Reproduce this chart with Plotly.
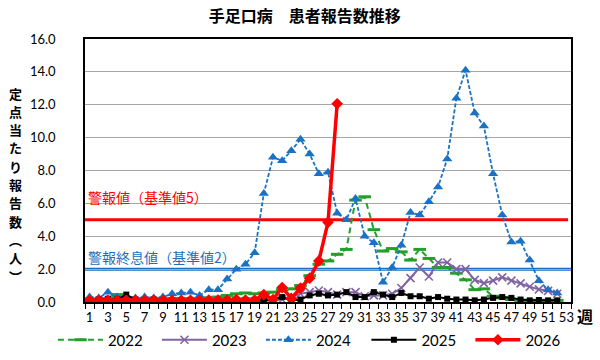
import plotly.graph_objects as go

weeks = list(range(1, 54))
tick_weeks = list(range(1, 54, 2))

y2022 = [0.1, 0.15, 0.2, 0.45, 0.25, 0.2, 0.15, 0.2, 0.15, 0.2, 0.2, 0.15, 0.2, 0.25, 0.3, 0.4, 0.5, 0.55, 0.5, 0.55,
         0.6, 0.75, 0.8, 1.0, 1.6, 2.3, 2.5, 2.9, 3.2, 6.2, 6.4, 4.4, 3.1, 3.25, 3.05, 2.55, 3.2, 2.65, 2.1, 2.1,
         1.75, 1.35, 0.75, 0.8, 0.35, 0.25, 0.15, 0.1, 0.1, 0.1, 0.1, 0.1]
y2023 = [0.05, 0.05, 0.05, 0.05, 0.05, 0.05, 0.05, 0.05, 0.05, 0.05, 0.05, 0.05, 0.05, 0.05, 0.05, 0.05, 0.05, 0.05, 0.05, 0.05,
         0.1, 0.15, 0.3, 0.5, 0.6, 0.7, 0.6, 0.45, 0.6, 0.6, 0.35, 0.4, 0.4, 0.5, 0.85, 1.45, 2.1, 1.55, 2.4, 2.4,
         2.0, 2.0, 1.35, 1.15, 1.3, 1.5, 1.3, 1.13, 0.93, 0.77, 0.68, 0.5]
y2024 = [0.3, 0.25, 0.6, 0.3, 0.3, 0.25, 0.3, 0.25, 0.3, 0.5, 0.55, 0.6, 0.4, 0.75, 0.75, 1.4, 2.0, 2.3, 3.0, 6.6,
         8.8, 8.6, 9.2, 9.9, 9.0, 7.8, 7.9, 5.4, 5.0, 6.3, 4.0, 3.6, 1.2, 2.1, 3.45, 5.45, 5.3, 6.1, 7.0, 8.7,
         12.4, 14.1, 11.5, 10.7, 7.8, 5.3, 3.65, 3.7, 2.55, 1.3, 0.75, 0.55]
y2025 = [0.1, 0.15, 0.2, 0.15, 0.45, 0.15, 0.1, 0.15, 0.1, 0.1, 0.1, 0.1, 0.1, 0.1, 0.1, 0.1, 0.1, 0.1, 0.1, 0.1,
         0.15, 0.3, 0.1, 0.15, 0.4, 0.5, 0.4, 0.45, 0.6, 0.3, 0.3, 0.6, 0.45, 0.3, 0.55, 0.35, 0.35, 0.2, 0.3, 0.2,
         0.15, 0.15, 0.1, 0.15, 0.25, 0.3, 0.25, 0.15, 0.1, 0.12, 0.1, 0.1]
y2026 = [0.1, 0.1, 0.1, 0.1, 0.1, 0.1, 0.1, 0.1, 0.1, 0.1, 0.1, 0.1, 0.1, 0.12, 0.12, 0.12, 0.15, 0.12, 0.12, 0.45,
         0.15, 0.88, 0.22, 0.85, 1.45, 2.5, 4.85, 12.06]

ALERT_LEVEL = 5
END_LEVEL = 2
TITLE = "手足口病　患者報告数推移"
ALERT_LABEL = "警報値（基準値5）"
END_LABEL = "警報終息値（基準値2）"
Y_TITLE = "定点当たり報告数︵人︶"

num_font = "Lato, Liberation Sans, sans-serif"
jp_font = "Noto Sans CJK JP, sans-serif"

fig = go.Figure()

fig.add_trace(go.Scatter(
    x=weeks[:len(y2022)], y=y2022, name="2022", mode="lines+markers", legend="legend",
    line=dict(color="#22a02a", width=2, dash="6px,4px"),
    marker=dict(symbol="line-ew", size=9, line=dict(color="#22a02a", width=3)),
))
fig.add_trace(go.Scatter(
    x=weeks[:len(y2023)], y=y2023, name="2023", mode="lines+markers", legend="legend",
    line=dict(color="#8064a2", width=2),
    marker=dict(symbol="x-thin", size=8, line=dict(color="#8064a2", width=1.6)),
))
fig.add_trace(go.Scatter(
    x=weeks[:len(y2024)], y=y2024, name="2024", mode="lines+markers", legend="legend",
    line=dict(color="#1a72c4", width=1.8, dash="4px,2px"),
    marker=dict(symbol="triangle-up", size=9, color="#1a72c4"),
))
fig.add_trace(go.Scatter(
    x=weeks[:len(y2025)], y=y2025, name="2025", mode="lines+markers", legend="legend2",
    line=dict(color="#000000", width=2),
    marker=dict(symbol="square", size=6, color="#000000"),
))
fig.add_trace(go.Scatter(
    x=weeks[:len(y2026)], y=y2026, name="2026", mode="lines+markers", legend="legend2",
    line=dict(color="#ff0000", width=3.5),
    marker=dict(symbol="diamond", size=9, color="#ff0000"),
))

fig.add_shape(type="line", xref="paper", yref="y", x0=0, x1=0.994, y0=ALERT_LEVEL, y1=ALERT_LEVEL,
              line=dict(color="#ff0000", width=3), layer="between")
fig.add_shape(type="line", xref="paper", yref="y", x0=0, x1=1, y0=END_LEVEL, y1=END_LEVEL,
              line=dict(color="#1b6fc2", width=3), layer="between")

fig.add_annotation(text=ALERT_LABEL, xref="paper", yref="y", x=0.003, y=ALERT_LEVEL, yshift=23,
                   xanchor="left", yanchor="middle", showarrow=False,
                   font=dict(family=jp_font, size=14, color="#ff0000"))
fig.add_annotation(text=END_LABEL, xref="paper", yref="y", x=0.003, y=END_LEVEL, yshift=12,
                   xanchor="left", yanchor="middle", showarrow=False,
                   font=dict(family=jp_font, size=14, color="#1b6fc2"))

# vertical axis title, one character per row
for i, ch in enumerate(Y_TITLE):
    fig.add_annotation(text="<b>" + ch + "</b>", xref="paper", yref="paper",
                       x=-0.142, y=1, yshift=-54 - 18.3 * i, xanchor="center", yanchor="middle",
                       showarrow=False, borderpad=0,
                       font=dict(family=jp_font, size=13, color="#000000"))

fig.add_annotation(text="<b>週</b>", xref="paper", yref="paper", x=1.0, y=0, xshift=4, yshift=-14,
                   xanchor="left", yanchor="middle", showarrow=False,
                   font=dict(family=jp_font, size=16, color="#000000"))

legend_common = dict(orientation="h", xanchor="left", yref="paper", y=-0.1445, yanchor="middle",
                     font=dict(family=num_font, size=15, color="#000000"),
                     entrywidth=44, itemwidth=45, traceorder="normal", bgcolor="rgba(0,0,0,0)")

fig.update_layout(
    width=600, height=360,
    margin=dict(l=85, r=29, t=39, b=58, autoexpand=False),
    paper_bgcolor="white", plot_bgcolor="white",
    title=dict(text="<b>" + TITLE + "</b>", x=0.508, xanchor="center", y=0.955, yanchor="middle",
               font=dict(family=jp_font, size=16, color="#000000")),
    showlegend=True,
    legend=dict(x=-0.066, **legend_common),
    legend2=dict(x=0.579, **legend_common),
    font=dict(family=num_font),
)

fig.update_xaxes(
    range=[0.5, 53.5], tickmode="array", tickvals=tick_weeks, ticktext=[str(w) for w in tick_weeks],
    ticks="", ticklabelstandoff=3, showgrid=False, zeroline=False,
    showline=True, linecolor="#000000", linewidth=1.5, mirror=True,
    tickfont=dict(family=num_font, size=13, color="#000000"),
    minor=dict(tickmode="array", tickvals=[w - 0.5 for w in weeks] + [53.5], ticks="outside",
               ticklen=5, tickcolor="#000000", tickwidth=1, showgrid=False),
)
fig.update_yaxes(
    range=[0, 16], dtick=2, tick0=0, tickformat=".1f",
    showgrid=True, gridcolor="#a6a6a6", gridwidth=1, zeroline=False,
    showline=True, linecolor="#000000", linewidth=1.5, mirror=True,
    ticks="", ticklabelstandoff=25,
    tickfont=dict(family=num_font, size=13, color="#000000"),
)

fig.write_html("out.html")
